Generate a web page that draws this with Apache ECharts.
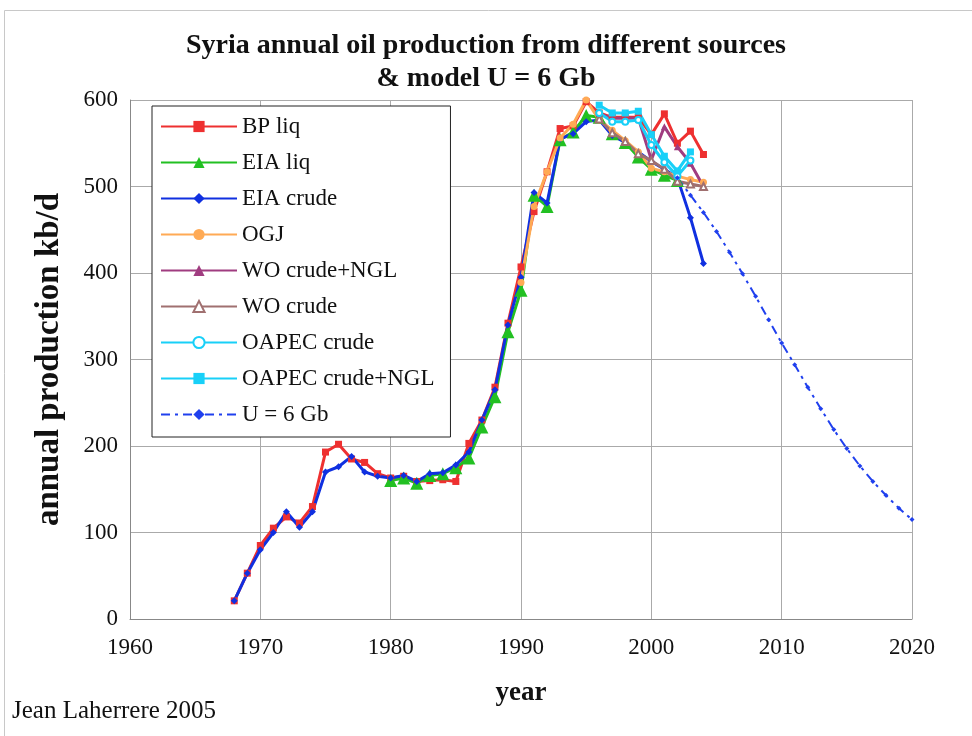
<!DOCTYPE html>
<html>
<head>
<meta charset="utf-8">
<script src="https://cdn.jsdelivr.net/npm/echarts@6/dist/echarts.min.js"></script>
<style>
  html, body { margin: 0; padding: 0; background: #fff; }
  #chart { width: 972px; height: 736px; }
</style>
</head>
<body>
<div id="chart"></div>
<script>
// years 1968-2004
const yearsFull = [1968, 1969, 1970, 1971, 1972, 1973, 1974, 1975, 1976, 1977, 1978, 1979,
  1980, 1981, 1982, 1983, 1984, 1985, 1986, 1987, 1988, 1989, 1990, 1991, 1992, 1993,
  1994, 1995, 1996, 1997, 1998, 1999, 2000, 2001, 2002, 2003, 2004]
const bpLiq = [21, 53, 85, 105, 118, 111, 130, 193, 202, 185, 181, 168,
  163, 165, 159, 160, 161, 159, 203, 230, 268, 342, 407, 471, 517, 567,
  570, 598, 585, 580, 580, 580, 560, 584, 550, 564, 537]
const eiaCrude = [21, 53, 80, 100, 124, 106, 124, 170, 176, 188, 170, 165,
  163, 166, 159, 168, 169, 178, 193, 230, 265, 340, 395, 493, 481, 555,
  561, 575, 577, 559, 551, 540, 529, 520, 510, 464, 411]

const yearsEiaLiq = [1980, 1981, 1982, 1983, 1984, 1985, 1986, 1987, 1988, 1989, 1990,
  1991, 1992, 1993, 1994, 1995, 1996, 1997, 1998, 1999, 2000, 2001, 2002]
const eiaLiq = [160, 163, 157, 166, 168, 175, 186, 222, 257, 332, 380,
  490, 477, 554, 563, 582, 580, 561, 551, 534, 520, 513, 507]

const yearsOgj = [1990, 1991, 1992, 1993, 1994, 1995, 1996, 1997, 1998, 1999, 2000,
  2001, 2002, 2003, 2004]
const ogj = [389, 477, 517, 556, 572, 600, 577, 565, 553, 540, 521, 517, 512, 508, 505]

const yearsWo = [1996, 1997, 1998, 1999, 2000, 2001, 2002, 2003, 2004]
const woCrudeNgl = [584, 579, 579, 579, 531, 569, 546, 527, 500]
const woCrude = [578, 562, 552, 538, 530, 520, 506, 503, 500]

const yearsOapec = [1996, 1997, 1998, 1999, 2000, 2001, 2002, 2003]
const oapecCrude = [585, 575, 575, 577, 548, 528, 512, 530]
const oapecCrudeNgl = [594, 585, 585, 587, 560, 535, 518, 540]

// modele U = 6 Gb
const yearsModel = [2002, 2003, 2004, 2005, 2006, 2007, 2008, 2009, 2010, 2011,
  2012, 2013, 2014, 2015, 2016, 2017, 2018, 2019, 2020]
const model = [510, 490, 470, 448, 424, 399, 373, 346, 319, 294,
  268, 243, 219, 197, 177, 159, 143, 128, 115]

const xTicks = [1960, 1970, 1980, 1990, 2000, 2010, 2020]

const pairs = (xs, ys) => xs.map((x, i) => [x, ys[i]])

const serif = 'Liberation Serif'

const chart = echarts.init(document.getElementById('chart'))

// une serie = ligne + marqueurs
const line = (name, xs, ys, color, symbol, size, extra) => Object.assign({
  name: name,
  type: 'line',
  data: pairs(xs, ys),
  symbol: symbol,
  symbolSize: size,
  showSymbol: true,
  animation: false,
  lineStyle: { color: color, width: 3 },
  itemStyle: { color: color },
  emphasis: { disabled: true }
}, extra || {})

const option = {
  backgroundColor: '#fff',
  title: [
    {
      text: 'Syria annual oil production from different sources\n& model U = 6 Gb',
      left: 'center',
      top: 29,
      padding: [0, 0, 0, 22],
      textStyle: {
        fontFamily: serif,
        fontWeight: 'bold',
        fontSize: 28,
        lineHeight: 33,
        color: '#111'
      }
    },
    {
      text: 'Jean Laherrere 2005',
      left: 12,
      top: 699,
      padding: 0,
      textStyle: { fontFamily: serif, fontWeight: 'normal', fontSize: 25, color: '#111' }
    }
  ],
  graphic: [
    {
      type: 'rect',
      shape: { x: 4.5, y: 10.5, width: 1000, height: 800 },
      style: { fill: 'none', stroke: '#c8c8c8', lineWidth: 1 },
      silent: true
    }
  ],
  legend: {
    orient: 'vertical',
    left: 152,
    top: 106,
    padding: [9, 16, 11, 8],
    itemWidth: 76,
    itemHeight: 14,
    itemGap: 13,
    backgroundColor: '#fff',
    borderColor: '#222',
    borderWidth: 1,
    textStyle: { fontFamily: serif, fontSize: 23, color: '#111' },
    data: ['BP liq', 'EIA liq', 'EIA crude', 'OGJ', 'WO crude+NGL', 'WO crude',
      'OAPEC crude', 'OAPEC crude+NGL', 'U = 6 Gb']
  },
  grid: { left: 130, right: 60, top: 100, bottom: 117 },
  xAxis: {
    type: 'value',
    min: 1960,
    max: 2020,
    interval: 10,
    name: 'year',
    nameLocation: 'middle',
    nameGap: 61,
    nameTextStyle: { fontFamily: serif, fontWeight: 'bold', fontSize: 27, color: '#111' },
    axisLine: { lineStyle: { color: '#888', width: 1 } },
    axisTick: { show: false },
    splitLine: { show: true, lineStyle: { color: '#aaa', width: 1 } },
    axisLabel: {
      margin: 17,
      fontFamily: serif,
      fontSize: 23,
      color: '#111',
      formatter: v => xTicks.includes(v) ? String(v) : ''
    }
  },
  yAxis: {
    type: 'value',
    min: 0,
    max: 600,
    interval: 100,
    name: 'annual production kb/d',
    nameLocation: 'middle',
    nameGap: 64,
    nameRotate: 90,
    nameTextStyle: { fontFamily: serif, fontWeight: 'bold', fontSize: 33, color: '#111' },
    axisLine: { show: true, lineStyle: { color: '#888', width: 1 } },
    axisTick: { show: false },
    splitLine: { show: true, lineStyle: { color: '#aaa', width: 1 } },
    axisLabel: { margin: 12, fontFamily: serif, fontSize: 23, color: '#111' }
  },
  series: [
    line('BP liq', yearsFull, bpLiq, '#ee3030', 'rect', 7),
    line('EIA liq', yearsEiaLiq, eiaLiq, '#22c022', 'triangle', 13),
    line('EIA crude', yearsFull, eiaCrude, '#1030e0', 'diamond', 7),
    line('OGJ', yearsOgj, ogj, '#ffaa55', 'circle', 7),
    line('WO crude+NGL', yearsWo, woCrudeNgl, '#a03c80', 'triangle', 7),
    line('WO crude', yearsWo, woCrude, '#a07070', 'emptyTriangle', 7,
      { itemStyle: { color: '#a07070', borderWidth: 1.5 } }),
    line('OAPEC crude', yearsOapec, oapecCrude, '#18d0f8', 'emptyCircle', 6,
      { itemStyle: { color: '#18d0f8', borderWidth: 2 } }),
    line('OAPEC crude+NGL', yearsOapec, oapecCrudeNgl, '#18d0f8', 'rect', 7),
    line('U = 6 Gb', yearsModel, model, '#2040ee', 'diamond', 5,
      { lineStyle: { color: '#2040ee', width: 2, type: [9, 5, 3, 5] } })
  ]
}

chart.setOption(option)
</script>
</body>
</html>
